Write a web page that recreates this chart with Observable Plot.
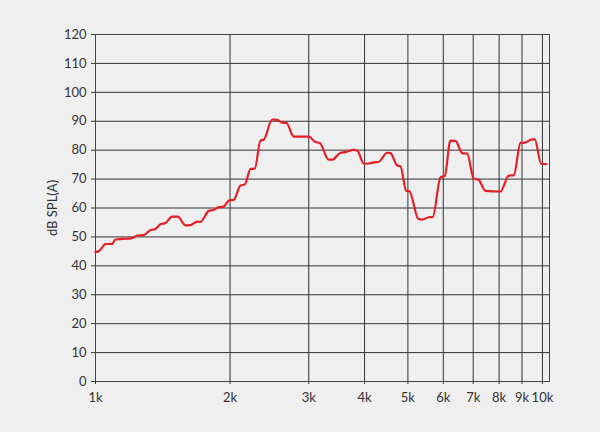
<!DOCTYPE html>
<html>
<head>
<meta charset="utf-8">
<script src="https://cdn.jsdelivr.net/npm/d3@7"></script>
<script src="https://cdn.jsdelivr.net/npm/@observablehq/plot@0.6"></script>
<style>
  html, body { margin: 0; padding: 0; background: #efefef; }
</style>
</head>
<body>
<div id="chart"></div>
<script>
const freqs = [1000, 1016, 1053, 1090, 1108, 1150, 1208, 1240, 1282, 1328, 1356, 1398, 1434, 1484, 1528,
  1590, 1631, 1688, 1718, 1793, 1837, 1887, 1936, 1988, 2039, 2111, 2158, 2223, 2272, 2339, 2379,
  2485, 2550, 2617, 2675, 2777, 3000, 3105, 3175, 3326, 3385, 3533, 3625, 3784, 3856, 3984, 4081,
  4195, 4304, 4494, 4571, 4731, 4813, 4956, 5041, 5272, 5382, 5567, 5683, 5914, 6046, 6225, 6388,
  6613, 6788, 7021, 7181, 7457, 8054, 8407, 8628, 8929, 9115, 9484, 9612, 9934, 10207];
const spl = [44.8, 45.0, 47.5, 47.6, 49.1, 49.3, 49.6, 50.5, 50.6, 52.4, 52.6, 54.4, 54.8, 57.0, 57.0,
  54.0, 54.1, 55.3, 55.2, 59.0, 59.3, 60.3, 60.5, 62.6, 62.8, 67.8, 68.1, 73.5, 73.6, 83.3, 83.6,
  90.6, 90.5, 89.5, 89.4, 84.7, 84.7, 82.8, 82.5, 76.7, 76.7, 79.1, 79.3, 80.1, 79.8, 75.3, 75.4,
  75.8, 76.0, 79.1, 79.0, 74.7, 74.4, 66.0, 65.8, 56.3, 56.0, 56.8, 56.9, 70.6, 71.1, 83.3, 83.2,
  79.0, 78.8, 70.1, 69.9, 65.9, 65.7, 71.2, 71.3, 82.5, 82.6, 83.7, 83.7, 75.3, 75.2];

const xTicks = [1000, 2000, 3000, 4000, 5000, 6000, 7000, 8000, 9000, 10000];
const xTickLabels = ["1k", "2k", "3k", "4k", "5k", "6k", "7k", "8k", "9k", "10k"];
const yTicks = [0, 10, 20, 30, 40, 50, 60, 70, 80, 90, 100, 110, 120];
const yLabel = "dB SPL(A)";

const data = freqs.map((f, i) => ({f, v: spl[i]}));

const chart = Plot.plot({
  width: 600,
  height: 432,
  marginLeft: 95,
  marginRight: 51,
  marginTop: 34,
  marginBottom: 51,
  style: {background: "#efefef", fontFamily: "Lato, 'Open Sans', sans-serif", fontSize: "13px", color: "#333"},
  x: {type: "log", domain: [1000, 10370]},
  y: {domain: [0, 120]},
  marks: [
    Plot.ruleY(yTicks.filter(d => d > 0), {stroke: "#333", strokeWidth: 1}),
    Plot.ruleX(xTicks.slice(1), {stroke: "#333", strokeWidth: 1}),
    Plot.frame({stroke: "#444"}),
    Plot.axisY({ticks: yTicks, tickSize: 4, tickPadding: 5, label: yLabel, labelAnchor: "center", labelArrow: "none", labelOffset: 48, fontSize: 13, stroke: "#333"}),
    Plot.axisX({ticks: xTicks, tickFormat: d => xTickLabels[xTicks.indexOf(d)], tickSize: 3, tickPadding: 8, label: null, fontSize: 13, stroke: "#333"}),
    Plot.line(data, {x: "f", y: "v", stroke: "#e41f26", strokeWidth: 2.2, curve: "monotone-x"})
  ]
});
document.getElementById("chart").appendChild(chart);
</script>
</body>
</html>
